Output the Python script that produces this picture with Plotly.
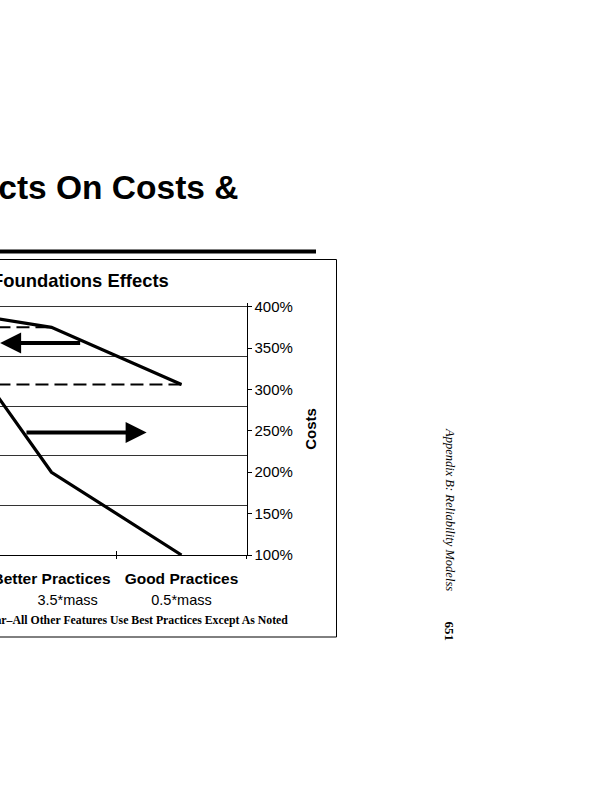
import plotly.graph_objects as go

# categories along the bottom (first one is off the left edge of the page)
categories = ["Best Practices", "Better Practices", "Good Practices"]
mass_labels = ["", "\u00a0" * 8 + "3.5*mass", "0.5*mass"]

# left axis series (its scale is off the page)
reliability = [100, 91.7, 68.7]
ref_better = [91.7, 91.7]
ref_good = [68.7, 68.7, 68.7]

# right axis "Costs" series, percent
costs = [421, 200, 100]
cost_ticks = [100, 150, 200, 250, 300, 350, 400]

W, H = 616, 800


def px(x):
    return x / W


def py(y):
    return 1 - y / H


fig = go.Figure()

fig.add_trace(go.Scatter(x=categories, y=reliability, mode="lines",
                         line=dict(color="black", width=3.2)))
fig.add_trace(go.Scatter(x=categories[:2], y=ref_better, mode="lines",
                         line=dict(color="black", width=2, dash="13px,6px")))
fig.add_trace(go.Scatter(x=categories, y=ref_good, mode="lines",
                         line=dict(color="black", width=2, dash="13px,6px")))
fig.add_trace(go.Scatter(x=categories, y=costs, mode="lines", xaxis="x2", yaxis="y2",
                         line=dict(color="black", width=3.2)))

sans = "Liberation Sans, Arial, sans-serif"
serif = "Liberation Serif, Times New Roman, serif"
xdom = [0, px(246.5)]
# a little head room so the top grid line (100 / 400%) gets drawn
ydom = [py(555), py(303)]
xr = [0.604, 2.5]

fig.update_layout(
    width=W, height=H,
    margin=dict(l=0, r=0, t=0, b=0, autoexpand=False),
    paper_bgcolor="white", plot_bgcolor="white",
    showlegend=False,
    font=dict(family=sans, color="black"),
    xaxis=dict(domain=xdom, range=xr, type="category", categoryorder="array",
               categoryarray=categories, tickson="boundaries", ticks="outside",
               ticklen=3, tickcolor="black", showline=True, linecolor="black",
               linewidth=1, showgrid=False, ticklabelstandoff=9, automargin=False,
               tickfont=dict(family=sans, size=15.5, weight="bold", color="black")),
    xaxis2=dict(overlaying="x", anchor="y", range=xr, type="category",
                categoryorder="array", categoryarray=categories,
                tickmode="array", tickvals=categories, ticktext=mass_labels,
                tickson="boundaries", ticks="inside", ticklen=4, tickcolor="black",
                showline=False, showgrid=False, ticklabelstandoff=34, automargin=False,
                tickfont=dict(family=sans, size=14.5, color="black")),
    yaxis=dict(domain=ydom, range=[0, 101.5], dtick=20, showgrid=True,
               gridcolor="#333333", gridwidth=1, showticklabels=False,
               ticks="", showline=False, zeroline=False, automargin=False),
    yaxis2=dict(overlaying="y", side="right", anchor="x", range=[100, 404.5],
                tickmode="array", tickvals=cost_ticks,
                ticktext=[f"{v}%" for v in cost_ticks],
                ticks="outside", ticklen=4, tickcolor="black", showline=True,
                linecolor="black", linewidth=1, showgrid=False, zeroline=False,
                automargin=False,
                tickfont=dict(family=sans, size=15, color="black"),
                title=dict(text="Costs", standoff=13,
                           font=dict(family=sans, size=15, weight="bold", color="black"))),
    yaxis3=dict(overlaying="y", side="right", anchor="x", range=[100, 404.5],
                tickmode="array", tickvals=cost_ticks, ticks="inside", ticklen=4,
                tickcolor="black", showticklabels=False, showline=False,
                showgrid=False, zeroline=False, automargin=False),
)

# arrows telling which axis each curve is read on
fig.add_annotation(x=0.605, y=85.4, ax=1.232, ay=85.4, xref="x", yref="y",
                   axref="x", ayref="y", text="", showarrow=True, arrowhead=2,
                   arrowwidth=4, arrowsize=1.05, arrowcolor="black")
fig.add_annotation(x=1.732, y=248, ax=0.796, ay=248, xref="x", yref="y2",
                   axref="x", ayref="y2", text="", showarrow=True, arrowhead=2,
                   arrowwidth=4, arrowsize=1.05, arrowcolor="black")

# page texts
fig.add_annotation(x=px(240), y=py(187), xref="paper", yref="paper", xanchor="right",
                   yanchor="middle", showarrow=False, text="<b>Effects On Costs &amp;</b>",
                   font=dict(family=sans, size=33.5, color="black"))
fig.add_annotation(x=px(171), y=py(280), xref="paper", yref="paper", xanchor="right",
                   yanchor="middle", showarrow=False, text="<b>Foundations Effects</b>",
                   font=dict(family=sans, size=18.4, color="black"))
fig.add_annotation(x=px(289.5), y=py(620), xref="paper", yref="paper", xanchor="right",
                   yanchor="middle", showarrow=False,
                   text="<b>For Each Bar\u2013All Other Features Use Best Practices Except As Noted</b>",
                   font=dict(family=serif, size=11.8, color="black"))
fig.add_annotation(x=px(459), y=py(509), xref="paper", yref="paper", textangle=90,
                   showarrow=False, text="<i>Appendix B: Reliability Modelss</i>",
                   font=dict(family=serif, size=12.5, color="black"))
fig.add_annotation(x=px(459), y=py(643), xref="paper", yref="paper", textangle=90,
                   showarrow=False, text="<b>651</b>",
                   font=dict(family=serif, size=13, color="black"))

# rule under the heading and the chart frame
fig.add_shape(type="line", xref="paper", yref="paper", x0=-0.05, x1=px(316),
              y0=py(251.5), y1=py(251.5), line=dict(color="black", width=4))
fig.add_shape(type="rect", xref="paper", yref="paper", x0=-0.05, x1=px(336.5),
              y0=py(637), y1=py(259.5), line=dict(color="black", width=1))

fig.write_html("out.html", config={"displayModeBar": False},
               post_script="document.body.style.margin='0';")
